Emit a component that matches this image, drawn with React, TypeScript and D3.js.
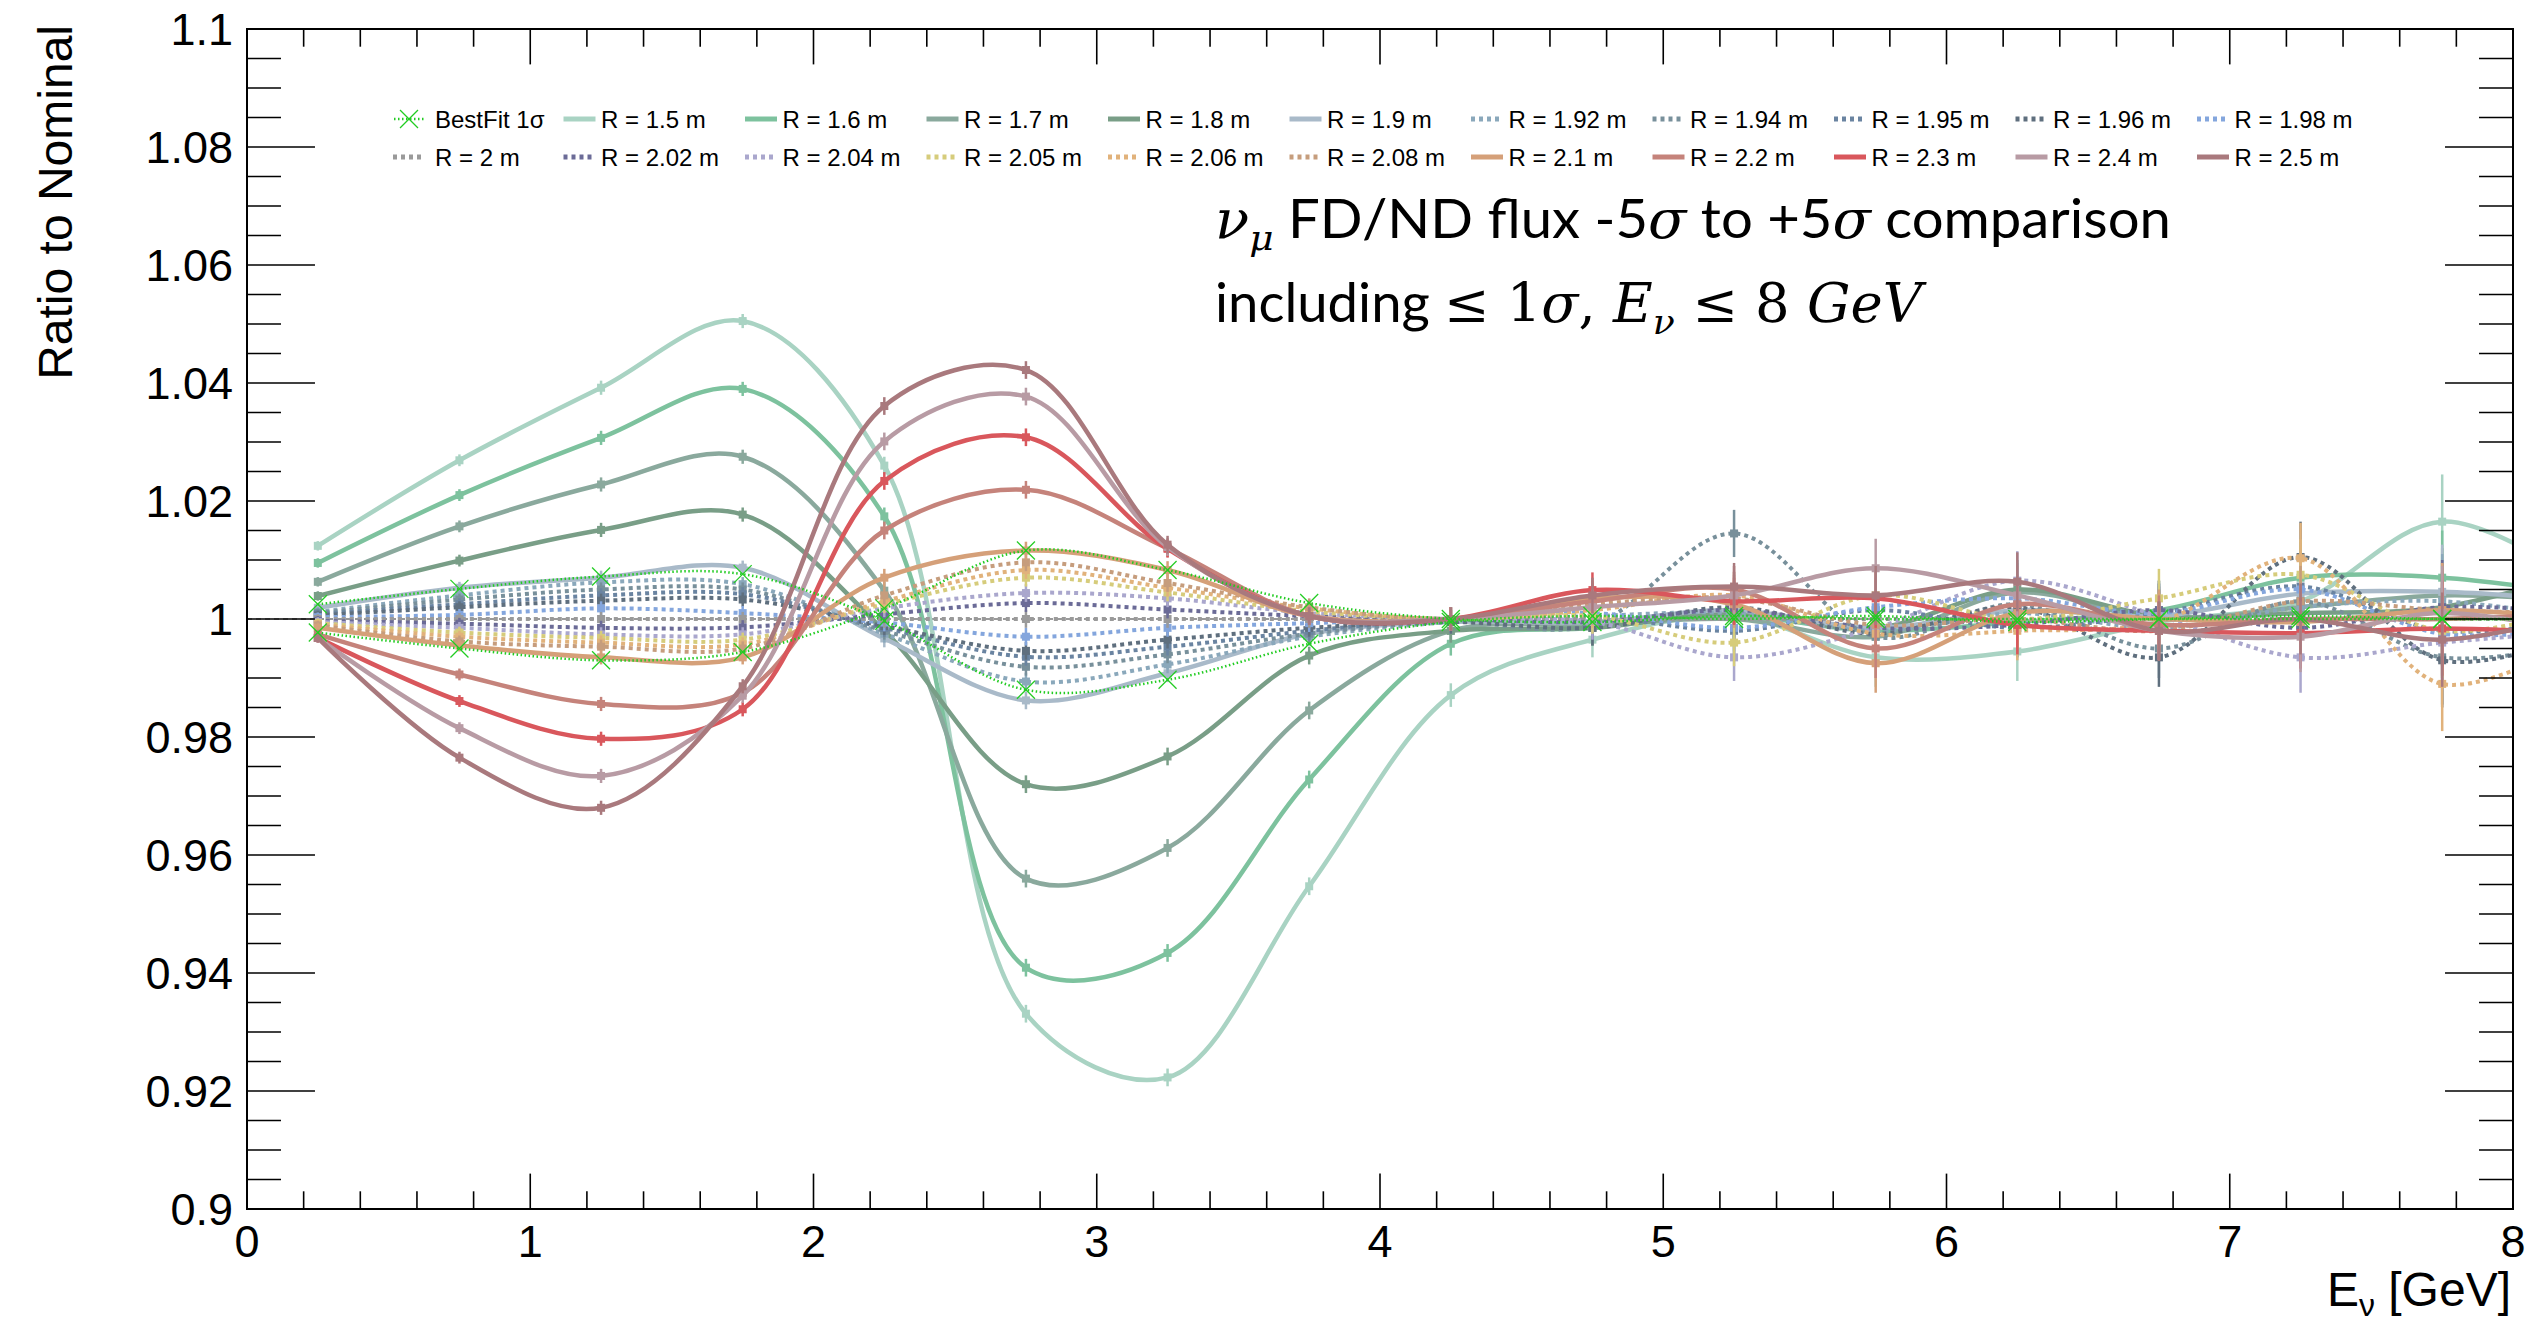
import React from "react";
import * as d3 from "d3";

const W = 2537;
const H = 1325;
const FRAME = { left: 247, right: 2513, top: 29, bottom: 1209 };

// Neutrino energy bin centres [GeV]; the last bin lies past the drawn range
const energyCenters = [0.25, 0.75, 1.25, 1.75, 2.25, 2.75, 3.25, 3.75, 4.25, 4.75, 5.25, 5.75, 6.25, 6.75, 7.25, 7.75, 8.25];
// Statistical uncertainty per bin (shared by all variations)
const statErrors = [0.0008, 0.001, 0.0012, 0.0012, 0.0015, 0.0015, 0.0015, 0.0015, 0.002, 0.003, 0.004, 0.005, 0.005, 0.005, 0.006, 0.008, 0.008];

// FD/ND flux ratio to nominal for each horn radius
const r150 = [1.0124, 1.0269, 1.0392, 1.0505, 1.026, 0.9331, 0.9223, 0.9547, 0.9871, 0.9965, 1.0005, 0.9935, 0.9945, 0.9995, 1.003, 1.0165, 1.006];
const r160 = [1.0095, 1.021, 1.0307, 1.039, 1.0174, 0.9409, 0.9434, 0.9728, 0.9958, 0.9985, 1.0005, 0.998, 0.9995, 1.0015, 1.007, 1.007, 1.004];
const r170 = [1.0063, 1.0157, 1.0228, 1.0275, 1.0048, 0.956, 0.9612, 0.9845, 0.998, 0.999, 1.0, 0.997, 1.0045, 1.0, 1.002, 1.004, 1.003];
const r180 = [1.0039, 1.0099, 1.0151, 1.0177, 0.998, 0.972, 0.9767, 0.9938, 0.998, 0.9985, 1.001, 0.9985, 1.005, 1.0005, 1.001, 1.002, 1.008];
const r190 = [1.0019, 1.0053, 1.007, 1.0087, 0.9967, 0.9862, 0.9908, 0.9975, 0.9995, 0.9995, 1.0015, 0.9985, 1.0015, 1.0005, 1.0043, 1.0046, 1.003];
const r192 = [1.0012, 1.004, 1.0062, 1.0059, 0.9975, 0.9894, 0.9923, 0.997, 0.9995, 1.0005, 1.001, 0.998, 1.001, 0.9985, 1.002, 1.003, 1.0];
const r194 = [1.001, 1.0033, 1.005, 1.005, 0.998, 0.9919, 0.994, 0.9975, 0.9995, 0.999, 1.0145, 0.997, 1.0025, 0.995, 1.003, 0.9935, 0.996];
const r195 = [1.0008, 1.0025, 1.004, 1.0042, 0.9985, 0.9936, 0.9953, 0.998, 1.0, 1.0005, 0.998, 1.0015, 0.9985, 1.001, 1.0055, 0.998, 1.0];
const r196 = [1.0006, 1.002, 1.0031, 1.0033, 0.9988, 0.9946, 0.9965, 0.9985, 0.9995, 0.9985, 1.002, 0.9975, 1.002, 0.9935, 1.0105, 0.993, 0.9975];
const r198 = [1.0003, 1.0007, 1.0018, 1.001, 0.9994, 0.997, 0.9985, 0.9993, 1.0, 1.001, 0.9985, 1.002, 1.0035, 1.001, 1.005, 0.9975, 0.9985];
const r200 = [1.0, 1.0, 1.0, 1.0, 1.0, 1.0, 1.0, 1.0, 1.0, 1.0, 1.0, 1.0, 1.0, 1.0, 1.0, 1.0, 1.0];
const r202 = [0.9997, 0.9992, 0.9985, 0.9986, 1.0008, 1.0027, 1.0016, 1.0005, 1.0, 0.9995, 1.0015, 0.9985, 0.999, 1.0015, 0.9985, 1.002, 1.001];
const r204 = [0.9995, 0.9985, 0.9974, 0.9974, 1.0018, 1.0044, 1.0035, 1.001, 1.0, 0.9995, 0.9935, 0.9985, 1.0065, 1.0005, 0.9935, 0.996, 0.998];
const r205 = [0.9993, 0.9977, 0.9968, 0.9965, 1.0025, 1.007, 1.0045, 1.0013, 1.0, 1.0005, 0.996, 1.004, 1.0, 1.0035, 1.0075, 0.998, 1.002];
const r206 = [0.9991, 0.997, 0.996, 0.9957, 1.003, 1.0083, 1.0053, 1.0018, 1.0, 1.0015, 1.004, 0.9975, 0.998, 0.9995, 1.0103, 0.989, 0.997];
const r208 = [0.9989, 0.9962, 0.9953, 0.995, 1.004, 1.0096, 1.0061, 1.002, 1.0, 1.0025, 1.0035, 0.999, 1.0, 0.998, 1.003, 1.0015, 1.001];
const r210 = [0.9985, 0.9955, 0.9935, 0.9935, 1.007, 1.0116, 1.0083, 1.0005, 1.0, 1.0035, 1.0025, 0.9925, 1.001, 1.0, 0.9995, 1.0015, 1.0];
const r220 = [0.9974, 0.9906, 0.9856, 0.9875, 1.015, 1.0219, 1.012, 1.0005, 1.0, 1.003, 1.005, 0.995, 1.0025, 0.999, 1.0, 1.0, 1.001];
const r230 = [0.9968, 0.9861, 0.9797, 0.9847, 1.0234, 1.0308, 1.0119, 1.0005, 1.0, 1.0049, 1.003, 1.0035, 0.999, 0.998, 0.9976, 0.9984, 0.9975];
const r240 = [0.9968, 0.9815, 0.9734, 0.987, 1.0301, 1.0377, 1.0122, 1.0005, 1.0, 1.002, 1.004, 1.0086, 1.004, 0.998, 0.997, 1.001, 0.9975];
const r250 = [0.9968, 0.9765, 0.968, 0.9886, 1.0361, 1.0422, 1.0126, 1.0005, 1.0, 1.004, 1.0055, 1.004, 1.0063, 0.998, 1.0, 0.9965, 1.001];

// Best-fit +/- 1 sigma envelope
const bestFitMinus = [1.0025, 1.0051, 1.0072, 1.0076, 0.9997, 0.988, 0.9897, 0.9958, 0.9995, 1.0005, 1.0, 1.0005, 0.9995, 1.0, 1.0005, 1.0, 1.0];
const bestFitPlus = [0.9977, 0.995, 0.993, 0.9944, 1.0018, 1.0116, 1.0083, 1.0027, 1.0, 0.9995, 1.0005, 1.0, 1.0, 1.0, 1.0, 1.0, 1.0];

const radiusLabels = ["R = 1.5 m", "R = 1.6 m", "R = 1.7 m", "R = 1.8 m", "R = 1.9 m", "R = 1.92 m", "R = 1.94 m", "R = 1.95 m", "R = 1.96 m", "R = 1.98 m", "R = 2 m", "R = 2.02 m", "R = 2.04 m", "R = 2.05 m", "R = 2.06 m", "R = 2.08 m", "R = 2.1 m", "R = 2.2 m", "R = 2.3 m", "R = 2.4 m", "R = 2.5 m"];
const radiusValues = [r150, r160, r170, r180, r190, r192, r194, r195, r196, r198, r200, r202, r204, r205, r206, r208, r210, r220, r230, r240, r250];
const radiusColors = ["#a9d3c3", "#7dc29e", "#8aa99d", "#799e87", "#a9bac9", "#8aa8bb", "#78909b", "#6a84a1", "#5f6f7e", "#84a6dd", "#9a9a9a", "#6b6b97", "#aaa7cd", "#d6cc7b", "#e1b27b", "#c69d7d", "#d5a079", "#c5837b", "#d9575c", "#b89ba4", "#a9797d"];
const radiusDotted = [false, false, false, false, false, true, true, true, true, true, true, true, true, true, true, true, false, false, false, false, false];

const BEST_FIT_COLOR = "#22cc22";
const yMajorTicks = d3.range(11).map((i) => 0.9 + i * 0.02);
const yMinorTicks = d3.range(41).map((i) => 0.9 + i * 0.005);
const xMajorTicks = d3.range(9);
const xMinorTicks = d3.range(41).map((i) => i * 0.2);

const FONT = "'Liberation Sans', Arial, Helvetica, sans-serif";
const MATH = "'DejaVu Serif', 'Liberation Serif', serif";

const x = d3.scaleLinear().domain([0, 8]).range([FRAME.left, FRAME.right]);
const y = d3.scaleLinear().domain([0.9, 1.1]).range([FRAME.bottom, FRAME.top]);

const smoothLine = d3
  .line<number>()
  .x((_, i) => x(energyCenters[i]))
  .y((v) => y(v))
  .curve(d3.curveCatmullRom.alpha(0.5));

const fmtY = (v: number) => String(+v.toFixed(2));

function legendSymbolCenter(col: number) {
  return col === 0 ? 409 : 579.5 + 181.5 * (col - 1);
}
const legendRowY = [119, 157];

function XMarker({ cx, cy, r, color }: { cx: number; cy: number; r: number; color: string }) {
  return (
    <g stroke={color} strokeWidth={1.3}>
      <line x1={cx - r} y1={cy - r} x2={cx + r} y2={cy + r} />
      <line x1={cx - r} y1={cy + r} x2={cx + r} y2={cy - r} />
    </g>
  );
}

export default function App() {
  const plotW = FRAME.right - FRAME.left;
  const plotH = FRAME.bottom - FRAME.top;
  const yMajorLen = 0.03 * plotW;
  const xMajorLen = 0.03 * plotH;

  const series = radiusValues.map((values, k) => ({
    label: radiusLabels[k],
    values,
    color: radiusColors[k],
    dotted: radiusDotted[k],
  }));

  const legendEntries = [
    { label: "BestFit 1\u03c3", color: BEST_FIT_COLOR, kind: "bestfit", dotted: true },
    ...series.map((s) => ({ label: s.label, color: s.color, kind: "radius", dotted: s.dotted })),
  ];

  return (
    <svg width={W} height={H} style={{ position: "absolute", left: 0, top: 0, background: "#fff" }}>
      <defs>
        <clipPath id="plotArea">
          <rect x={FRAME.left} y={FRAME.top} width={plotW} height={plotH} />
        </clipPath>
      </defs>
      <rect x={0} y={0} width={W} height={H} fill="#fff" />

      {/* nominal reference line */}
      <line x1={x(0)} x2={x(8)} y1={y(1)} y2={y(1)} stroke="#9a9a9a" strokeWidth={2} strokeDasharray="5 4" />

      <g clipPath="url(#plotArea)">
        {series.map((s) => (
          <g key={s.label}>
            <path
              d={smoothLine(s.values) || ""}
              fill="none"
              stroke={s.color}
              strokeWidth={s.dotted ? 4 : 4.5}
              strokeDasharray={s.dotted ? "4 4" : undefined}
            />
            {s.values.map((v, i) => (
              <g key={i} stroke={s.color} fill={s.color}>
                <line x1={x(energyCenters[i])} x2={x(energyCenters[i])} y1={y(v - statErrors[i])} y2={y(v + statErrors[i])} strokeWidth={2.5} />
                <rect x={x(energyCenters[i]) - 4} y={y(v) - 4} width={8} height={8} stroke="none" />
              </g>
            ))}
          </g>
        ))}
        {[bestFitPlus, bestFitMinus].map((vals, j) => (
          <g key={j}>
            <path d={smoothLine(vals) || ""} fill="none" stroke={BEST_FIT_COLOR} strokeWidth={2.5} strokeDasharray="1.5 2.5" />
            {vals.map((v, i) => (
              <XMarker key={i} cx={x(energyCenters[i])} cy={y(v)} r={9} color={BEST_FIT_COLOR} />
            ))}
          </g>
        ))}
      </g>

      {/* frame */}
      <rect x={FRAME.left} y={FRAME.top} width={plotW} height={plotH} fill="none" stroke="#000" strokeWidth={2} />

      {/* ticks on all four sides */}
      <g stroke="#000" strokeWidth={1.6}>
        {yMinorTicks.map((t, i) => {
          const len = i % 4 === 0 ? yMajorLen : yMajorLen / 2;
          return (
            <g key={i}>
              <line x1={FRAME.left} x2={FRAME.left + len} y1={y(t)} y2={y(t)} />
              <line x1={FRAME.right} x2={FRAME.right - len} y1={y(t)} y2={y(t)} />
            </g>
          );
        })}
        {xMinorTicks.map((t, i) => {
          const len = i % 5 === 0 ? xMajorLen : xMajorLen / 2;
          return (
            <g key={i}>
              <line x1={x(t)} x2={x(t)} y1={FRAME.bottom} y2={FRAME.bottom - len} />
              <line x1={x(t)} x2={x(t)} y1={FRAME.top} y2={FRAME.top + len} />
            </g>
          );
        })}
      </g>

      {/* tick labels */}
      <g fontFamily={FONT} fontSize={45} fill="#000">
        {yMajorTicks.map((t) => (
          <text key={t} x={233} y={y(t)} textAnchor="end" dominantBaseline="central">
            {fmtY(t)}
          </text>
        ))}
        {xMajorTicks.map((t) => (
          <text key={t} x={x(t)} y={1241} textAnchor="middle" dominantBaseline="central">
            {t}
          </text>
        ))}
      </g>

      {/* axis titles */}
      <text transform="translate(72,25) rotate(-90)" textAnchor="end" fontFamily={FONT} fontSize={48}>
        Ratio to Nominal
      </text>
      <text x={2511} y={1306} textAnchor="end" fontFamily={FONT} fontSize={48}>
        E<tspan fontSize={32} dy={10}>{"\u03bd"}</tspan>
        <tspan dy={-10}> [GeV]</tspan>
      </text>

      {/* legend */}
      <g fontFamily={FONT} fontSize={24}>
        {legendEntries.map((e, k) => {
          const row = k < 11 ? 0 : 1;
          const col = k % 11;
          const cx = legendSymbolCenter(col);
          const cy = legendRowY[row];
          return (
            <g key={e.label}>
              {e.kind === "bestfit" ? (
                <>
                  <line x1={cx - 15} x2={cx + 15} y1={cy} y2={cy} stroke={e.color} strokeWidth={2.5} strokeDasharray="1.5 2.5" />
                  <XMarker cx={cx} cy={cy} r={9} color={e.color} />
                </>
              ) : (
                <line
                  x1={cx - 16}
                  x2={cx + 16}
                  y1={cy}
                  y2={cy}
                  stroke={e.color}
                  strokeWidth={5}
                  strokeDasharray={e.dotted ? "4 4" : undefined}
                />
              )}
              <text x={cx + (col === 0 ? 26 : 21.5)} y={cy + 8.5}>
                {e.label}
              </text>
            </g>
          );
        })}
      </g>

      {/* annotation */}
      <g fontFamily="Lato, 'Open Sans', sans-serif" fontSize={54} fill="#000">
        <text x={1215} y={238} textLength={956} lengthAdjust="spacingAndGlyphs">
          <tspan fontFamily={MATH} fontStyle="italic">{"\u03bd"}</tspan>
          <tspan fontFamily={MATH} fontStyle="italic" fontSize={36} dy={12}>{"\u03bc"}</tspan>
          <tspan dy={-12}>{" FD/ND flux -5"}</tspan>
          <tspan fontFamily={MATH} fontStyle="italic">{"\u03c3"}</tspan>
          <tspan>{" to +5"}</tspan>
          <tspan fontFamily={MATH} fontStyle="italic">{"\u03c3"}</tspan>
          <tspan>{" comparison"}</tspan>
        </text>
        <text x={1215} y={322} textLength={707} lengthAdjust="spacingAndGlyphs">
          <tspan>{"including "}</tspan>
          <tspan fontFamily={MATH}>{"\u2264 1"}</tspan>
          <tspan fontFamily={MATH} fontStyle="italic">{"\u03c3"}</tspan>
          <tspan fontFamily={MATH}>{", "}</tspan>
          <tspan fontFamily={MATH} fontStyle="italic">E</tspan>
          <tspan fontFamily={MATH} fontStyle="italic" fontSize={36} dy={12}>{"\u03bd"}</tspan>
          <tspan fontFamily={MATH} dy={-12}>{" \u2264 8 "}</tspan>
          <tspan fontFamily={MATH} fontStyle="italic">GeV</tspan>
        </text>
      </g>
    </svg>
  );
}
